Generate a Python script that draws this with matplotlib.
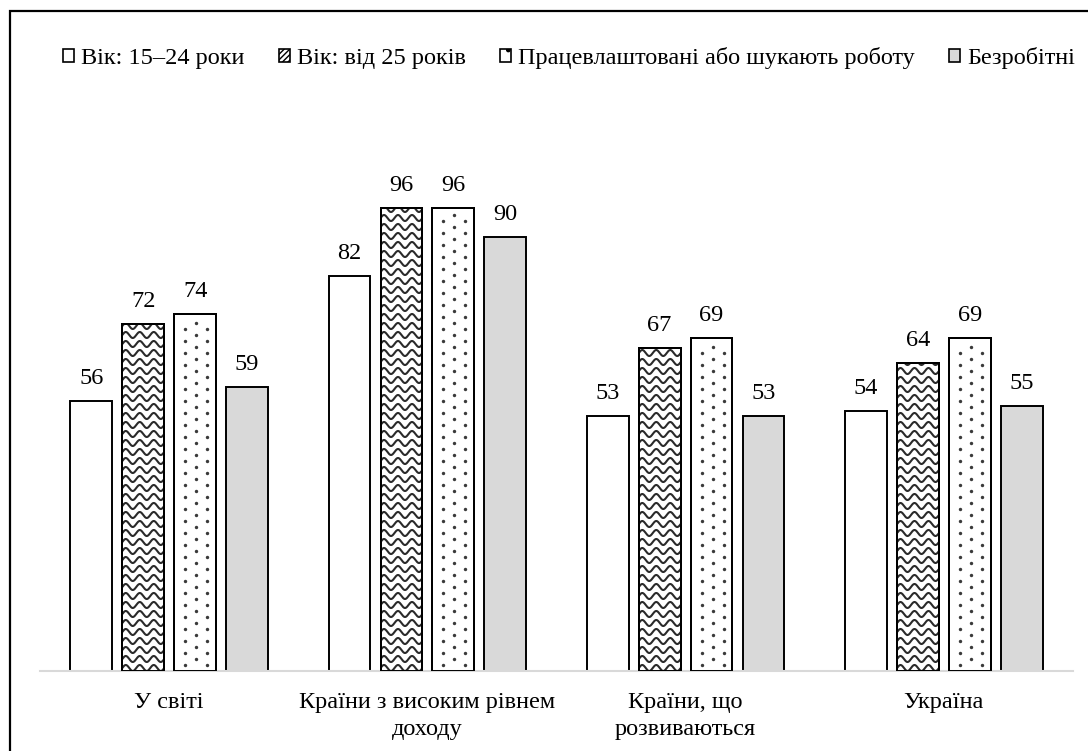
import numpy as np
import matplotlib.pyplot as plt
from matplotlib.patches import Rectangle

plt.rcParams['font.family'] = ['Liberation Serif', 'DejaVu Serif']

categories = ["У світі", "Країни з високим рівнем\nдоходу", "Країни, що\nрозвиваються", "Україна"]
series_names = ["Вік: 15–24 роки", "Вік: від 25 років",
                "Працевлаштовані або шукають роботу", "Безробітні"]
age_15_24 = [56, 82, 53, 54]
age_25_plus = [72, 96, 67, 64]
labour_force = [74, 96, 69, 69]
unemployed = [59, 90, 53, 55]
series = [age_15_24, age_25_plus, labour_force, unemployed]

W, H = 1088, 751
FS = 17.5
fig = plt.figure(figsize=(W / 100, H / 100), dpi=100)
ax = fig.add_axes([40 / W, (H - 671) / H, 1033 / W, (671 - 189) / H])
ax.set_xlim(-0.5, len(categories) - 0.5)
ax.set_ylim(0, 100)

# outer frame
fig.patches.append(Rectangle((10 / W, -0.05), 1.2, (H - 11) / H + 0.05,
                             transform=fig.transFigure, fill=False,
                             edgecolor='black', linewidth=1.6, zorder=0))

bar_w = 0.162
step = 0.201
faces = ['white', 'white', 'white', '#d9d9d9']
x = np.arange(len(categories))

# pixel scale helpers (axes position is fixed)
px_x = 1.0 / (1033 / len(categories))          # data units per pixel along x
px_y = 100.0 / (671 - 189)                      # data units per pixel along y

all_bars = []
for i, vals in enumerate(series):
    offs = (i - 1.5) * step
    bars = ax.bar(x + offs, vals, width=bar_w, color=faces[i],
                  edgecolor='black', linewidth=1.4, zorder=2)
    all_bars.append(bars)
    for xi, v in zip(x + offs, vals):
        ax.text(xi, v + 12 * px_y, f"{v}", ha='center', va='bottom',
                fontsize=FS, color='black')

# wavy fill for the second series
for b in all_bars[1]:
    x0, w, h = b.get_x(), b.get_width(), b.get_height()
    xs = np.linspace(x0 - 0.01, x0 + w + 0.01, 300)
    period = 14 * px_x
    amp = 3.0 * px_y
    yy = 3 * px_y
    while yy < h + 6 * px_y:
        ys = yy + amp * np.sin(2 * np.pi * (xs - x0) / period)
        ln, = ax.plot(xs, ys, color='#2a2a2a', lw=1.5, zorder=3)
        ln.set_clip_path(b)
        yy += 9 * px_y
    ax.bar(b.get_x() + w / 2, h, width=w, fill=False, edgecolor='black',
           linewidth=1.4, zorder=4)

# dotted fill for the third series
for b in all_bars[2]:
    x0, w, h = b.get_x(), b.get_width(), b.get_height()
    cols = [x0 + 11 * px_x, x0 + 22 * px_x, x0 + 33 * px_x]
    for k, cx in enumerate(cols):
        start = 6 * px_y if k != 1 else 12 * px_y
        ys = np.arange(start, h - 3 * px_y, 12 * px_y)
        ax.scatter(np.full_like(ys, cx), ys, s=6, color='#3a3a3a',
                   marker='o', linewidths=0, zorder=3)
    ax.bar(b.get_x() + w / 2, h, width=w, fill=False, edgecolor='black',
           linewidth=1.4, zorder=4)

ax.set_xticks(x)
ax.set_xticklabels(categories, fontsize=FS, linespacing=1.4)
ax.tick_params(axis='x', length=0, pad=15)
ax.set_yticks([])
for s in ['top', 'left', 'right']:
    ax.spines[s].set_visible(False)
ax.spines['bottom'].set_color('#d9d9d9')
ax.spines['bottom'].set_linewidth(1.5)

handles = [
    Rectangle((0, 0), 1, 1, facecolor='white', edgecolor='black', lw=1.2),
    Rectangle((0, 0), 1, 1, facecolor='white', edgecolor='black', lw=1.2, hatch='//////'),
    Rectangle((0, 0), 1, 1, facecolor='white', edgecolor='black', lw=1.2, hatch='.'),
    Rectangle((0, 0), 1, 1, facecolor='#d9d9d9', edgecolor='black', lw=1.2),
]
fig.legend(handles, series_names, loc='center', bbox_to_anchor=(569 / W, (H - 58) / H),
           ncol=4, frameon=False, fontsize=FS, handlelength=0.45, handleheight=0.45,
           handletextpad=0.3, columnspacing=1.4, borderpad=0, borderaxespad=0)

fig.savefig('out.png', dpi=100)
